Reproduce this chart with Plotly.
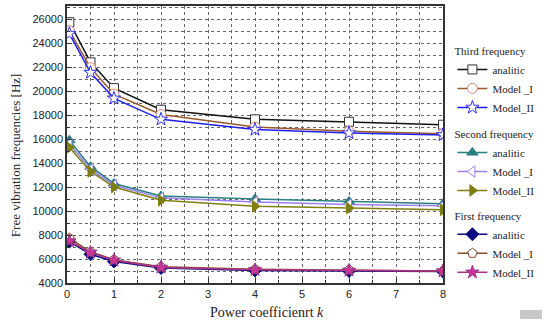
import plotly.graph_objects as go

k = [0.05, 0.5, 1, 2, 4, 6, 8]

third_analitic = [25750, 22400, 20250, 18450, 17650, 17450, 17200]
third_model1 = [25050, 21950, 19750, 18050, 17000, 16650, 16450]
third_model2 = [24800, 21550, 19400, 17650, 16800, 16500, 16350]

second_analitic = [15900, 13700, 12300, 11250, 11000, 10800, 10600]
second_model1 = [15600, 13500, 12150, 11100, 10750, 10550, 10450]
second_model2 = [15300, 13300, 12000, 10900, 10400, 10250, 10100]

first_analitic = [7450, 6400, 5800, 5250, 5050, 5000, 4950]
first_model1 = [7750, 6600, 5950, 5350, 5150, 5100, 5000]
first_model2 = [7500, 6550, 5900, 5300, 5100, 5050, 5000]

groups = ["Third frequency", "Second frequency", "First frequency"]
labels = ["analitic", "Model _I", "Model_II"]
x_title = "Power coefficienrt <i>k</i>"
y_title = "Free vibration frequencies [Hz]"

fig = go.Figure()

def add(y, name, legend, line_color, symbol, mfill, medge, msize=9):
    fig.add_trace(go.Scatter(
        x=k, y=y, name=name, mode="lines+markers", legend=legend,
        line=dict(color=line_color, width=1.5),
        marker=dict(symbol=symbol, size=msize, color=mfill, line=dict(color=medge, width=1)),
    ))

add(third_analitic, labels[0], "legend", "#111111", "square", "white", "#333333", 9)
add(third_model1, labels[1], "legend", "#9a5a2a", "circle", "white", "#e08070", 10)
add(third_model2, labels[2], "legend", "#2020ee", "star", "white", "#3030ee", 10)

add(second_analitic, labels[0], "legend2", "#2a7f80", "triangle-up", "#2a7f80", "#2a7f80", 10)
add(second_model1, labels[1], "legend2", "#9a80ee", "triangle-left", "white", "#a080ee", 10)
add(second_model2, labels[2], "legend2", "#7f7f10", "triangle-right", "#7f7f10", "#7f7f10", 10)

add(first_analitic, labels[0], "legend3", "#0a0a80", "diamond", "#0a0a80", "#0a0a80", 10)
add(first_model1, labels[1], "legend3", "#8a4a2a", "pentagon", "white", "#8a4a2a", 10)
add(first_model2, labels[2], "legend3", "#aa3388", "star", "#cc3399", "#993388", 10)

axis_common = dict(
    showline=True, linecolor="#333333", linewidth=1.5, mirror=True,
    ticks="inside", ticklen=5, tickcolor="#333333",
    gridcolor="#666666", griddash="dot", gridwidth=1,
    zeroline=False, automargin=False,
    tickfont=dict(family="Liberation Sans", size=11, color="#222"),
)

def legend_at(y, title):
    return dict(x=1.025, y=y, xanchor="left", yanchor="top",
                title=dict(text=title, font=dict(family="Liberation Serif", size=11, color="#222")),
                font=dict(family="Liberation Serif", size=11, color="#222"),
                itemwidth=30, bgcolor="rgba(0,0,0,0)", borderwidth=0,
                tracegroupgap=0)

fig.update_layout(
    width=550, height=327,
    margin=dict(l=67, r=107, t=6, b=44),
    paper_bgcolor="white", plot_bgcolor="white",
    showlegend=True,
    legend=legend_at(0.875, groups[0]),
    legend2=legend_at(0.575, groups[1]),
    legend3=legend_at(0.28, groups[2]),
    xaxis=dict(range=[0, 8], dtick=1, tick0=0,
               minor=dict(dtick=0.5, showgrid=True, gridcolor="#666666", griddash="dot", ticks="inside", ticklen=3),
               **axis_common),
    yaxis=dict(range=[4000, 27100], dtick=2000, tick0=4000, tickformat="d",
               minor=dict(dtick=1000, showgrid=True, gridcolor="#666666", griddash="dot", ticks="inside", ticklen=3),
               **axis_common),
    annotations=[
        dict(text=x_title, xref="paper", yref="paper", x=0.532, y=-0.105, xanchor="center", yanchor="middle",
             showarrow=False, font=dict(family="Liberation Serif", size=14, color="#222")),
        dict(text=y_title, xref="paper", yref="paper", x=-0.138, y=0.462, xanchor="center", yanchor="middle",
             textangle=-90, showarrow=False, font=dict(family="Liberation Serif", size=13, color="#222")),
    ],
)

fig.add_shape(type="rect", xref="paper", yref="paper", x0=1.205, x1=1.263, y0=-0.13, y1=-0.097,
              fillcolor="#c8c8c8", line=dict(width=0))

fig.write_html("out.html", post_script="document.body.style.margin='0';",
               config={"displayModeBar": False})
